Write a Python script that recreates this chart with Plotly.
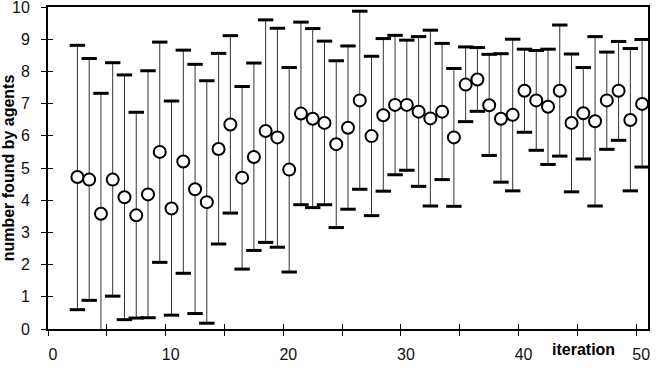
import plotly.graph_objects as go

iterations = list(range(2, 51))
means = [4.72, 4.64, 3.58, 4.64, 4.09, 3.53, 4.18, 5.50, 3.74, 5.20,
         4.34, 3.94, 5.59, 6.35, 4.70, 5.34, 6.15, 5.95, 4.95, 6.69,
         6.53, 6.40, 5.74, 6.25, 7.10, 5.99, 6.64, 6.96, 6.96, 6.75,
         6.54, 6.75, 5.95, 7.59, 7.75, 6.95, 6.53, 6.65, 7.40, 7.10,
         6.90, 7.40, 6.40, 6.70, 6.45, 7.10, 7.40, 6.49, 6.99]
upper = [8.81, 8.40, 7.32, 8.27, 7.89, 6.73, 8.02, 8.91, 7.08, 8.66,
         8.22, 7.71, 8.56, 9.11, 7.53, 8.26, 9.60, 9.34, 8.12, 9.53,
         9.33, 8.94, 8.33, 8.79, 9.87, 8.47, 9.02, 9.12, 8.97, 9.08,
         9.28, 8.87, 8.09, 8.76, 8.74, 8.53, 8.55, 9.00, 8.69, 8.65,
         8.69, 9.44, 8.54, 8.12, 9.08, 8.60, 8.93, 8.71, 8.99]
lower = [0.60, 0.89, -0.12, 1.02, 0.29, 0.34, 0.35, 2.07, 0.43, 1.73,
         0.48, 0.18, 2.64, 3.60, 1.86, 2.44, 2.69, 2.54, 1.77, 3.86,
         3.77, 3.86, 3.15, 3.72, 4.34, 3.52, 4.28, 4.79, 4.93, 4.43,
         3.82, 4.64, 3.81, 6.44, 6.76, 5.39, 4.56, 4.29, 6.11, 5.55,
         5.11, 5.37, 4.26, 5.28, 3.82, 5.58, 5.86, 4.29, 5.03]

x_tick_labels = [0, 5, 10, 15, 20, 25, 30, 35, 40, 45, 50]
y_tick_labels = list(range(0, 11))

FONT = "Liberation Sans, Arial, sans-serif"

err_plus = [u - m for u, m in zip(upper, means)]
err_minus = [m - l for m, l in zip(means, lower)]

fig = go.Figure()

# stems
fig.add_trace(go.Scatter(
    x=iterations, y=means, mode="markers",
    marker=dict(size=1, color="rgba(0,0,0,0)"),
    error_y=dict(type="data", symmetric=False, array=err_plus,
                 arrayminus=err_minus, color="#333", thickness=1, width=0),
    cliponaxis=False, showlegend=False, hoverinfo="skip"))

# caps
cap_x = iterations + iterations
cap_y = upper + lower
fig.add_trace(go.Scatter(
    x=cap_x, y=cap_y, mode="markers",
    marker=dict(symbol="line-ew", size=11, line=dict(width=3, color="black")),
    cliponaxis=True, showlegend=False, hoverinfo="skip"))

# mean circles
fig.add_trace(go.Scatter(
    x=iterations, y=means, mode="markers",
    marker=dict(symbol="circle", size=12, color="white",
                line=dict(width=2, color="black")),
    cliponaxis=False, showlegend=False))

# invisible trace for overlay axes
fig.add_trace(go.Scatter(x=[None], y=[None], xaxis="x2", yaxis="y2",
                         showlegend=False, hoverinfo="skip"))

tickvals_x = [t - 0.5 for t in x_tick_labels]
ticktext_x = [str(t) if t % 10 == 0 else "" for t in x_tick_labels]

fig.update_layout(
    width=656, height=370,
    margin=dict(l=48, r=8, t=7, b=41, autoexpand=False),
    plot_bgcolor="white", paper_bgcolor="white",
    font=dict(family=FONT, size=16, color="black"),
    xaxis=dict(range=[-0.5, 50.5], tickmode="array", tickvals=tickvals_x,
               ticktext=ticktext_x, ticks="outside", ticklen=5, tickwidth=1,
               tickcolor="black", showline=True, linewidth=2, linecolor="black",
               mirror=True, showgrid=False, zeroline=False, automargin=False,
               ticklabelshift=5, ticklabelstandoff=5, ticklabeloverflow="allow",
               tickfont=dict(family=FONT, size=16, color="#111")),
    yaxis=dict(range=[0, 10], tickmode="array", tickvals=y_tick_labels,
               ticktext=[str(v) for v in y_tick_labels],
               ticks="outside", ticklen=5, tickwidth=1, tickcolor="black",
               showline=True, linewidth=2, linecolor="black", mirror=True,
               showgrid=False, zeroline=False, ticklabelstandoff=8,
               automargin=False, ticklabeloverflow="allow",
               tickfont=dict(family=FONT, size=16, color="#111"),
               title=dict(text="<b>number found by agents</b>",
                          font=dict(family=FONT, size=16), standoff=2)),
    xaxis2=dict(range=[-0.5, 50.5], overlaying="x", tickmode="array",
                tickvals=tickvals_x, ticks="inside", ticklen=5, tickwidth=1,
                tickcolor="black", showticklabels=False, showgrid=False,
                zeroline=False, showline=False, side="bottom", automargin=False),
    yaxis2=dict(range=[0, 10], overlaying="y", tickmode="array",
                tickvals=y_tick_labels, ticks="inside", ticklen=5, tickwidth=1,
                tickcolor="black", showticklabels=False, showgrid=False,
                zeroline=False, showline=False, side="left", automargin=False),
    annotations=[dict(text="<b>iteration</b>", xref="paper", yref="paper",
                      x=(583 - 48) / 600, y=-(349.5 - 328.7) / 322,
                      xanchor="center", yanchor="middle", showarrow=False,
                      font=dict(family=FONT, size=16, color="black"))],
)

fig.write_html("out.html")
